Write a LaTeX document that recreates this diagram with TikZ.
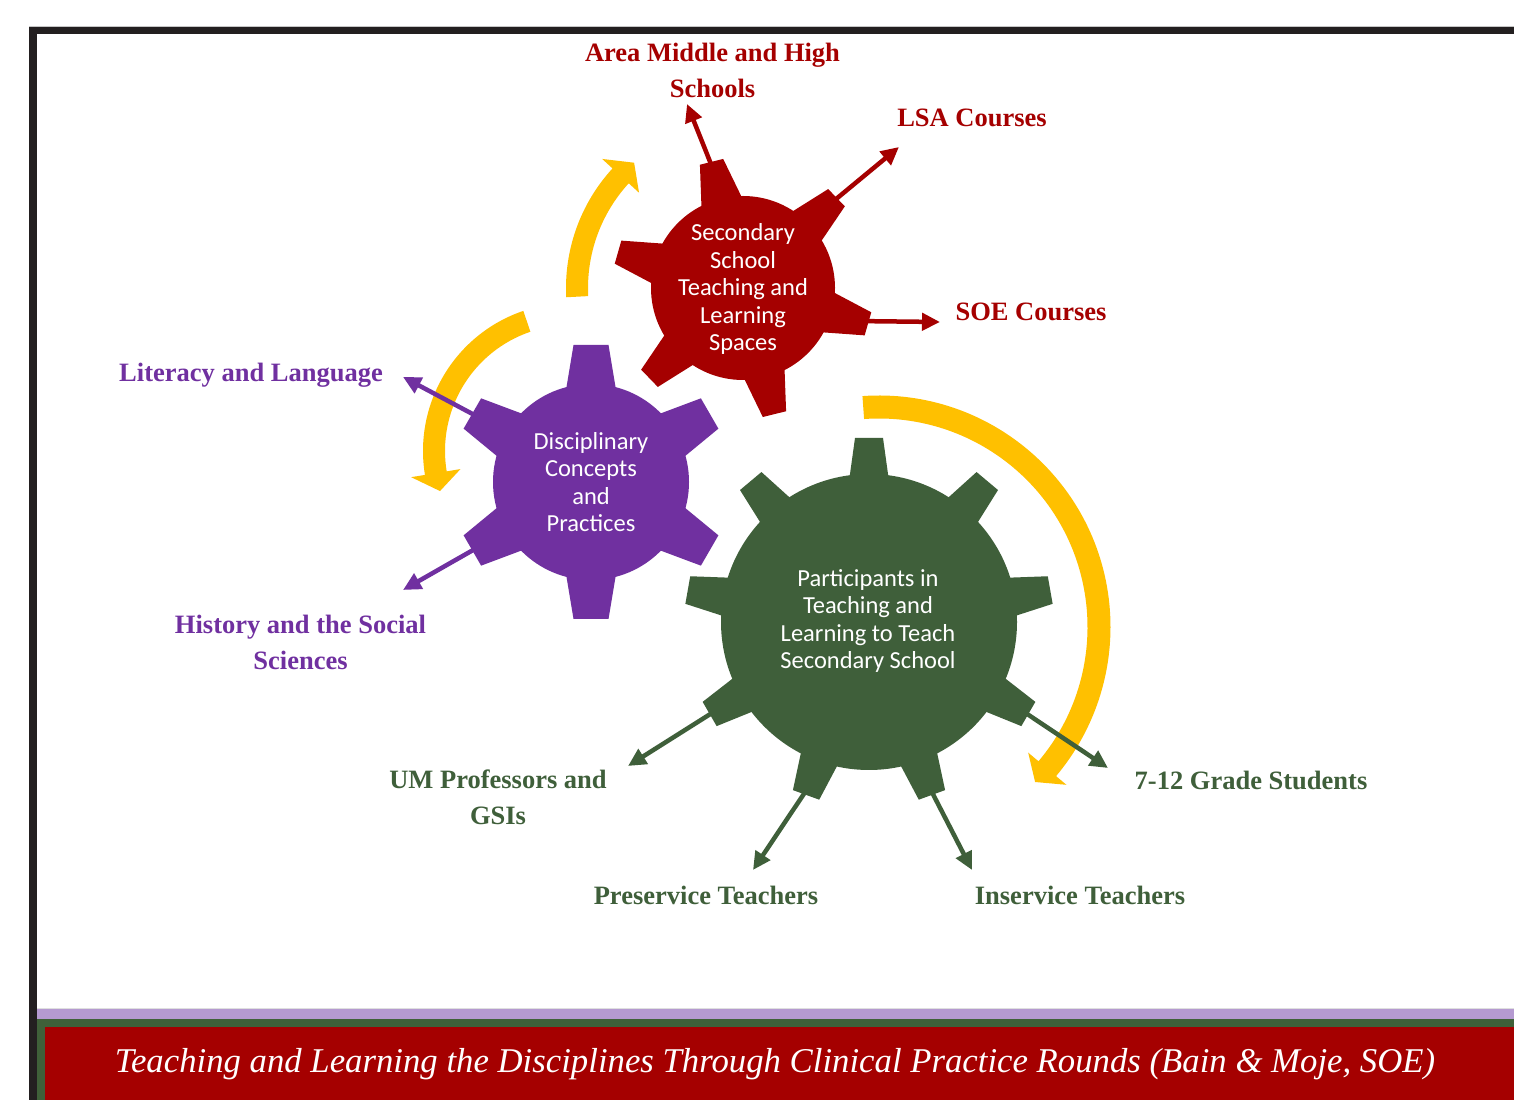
\documentclass[tikz,border=0pt]{standalone}
\usepackage{fontspec}
\usepackage{graphicx}
\setmainfont{Liberation Serif}
\newfontfamily\gearfont{Carlito}
\usetikzlibrary{arrows.meta,calc}
\definecolor{gred}{HTML}{A50000}
\definecolor{gpurple}{HTML}{7030A0}
\definecolor{ggreen}{HTML}{3F5F3A}
\definecolor{gyellow}{HTML}{FFC000}
\definecolor{frameblack}{HTML}{231F20}
\definecolor{lilac}{HTML}{B59AD1}
\definecolor{bandgreen}{HTML}{3F6039}
% #1 x, #2 y (image), #3 teeth, #4 first angle, #5 body r, #6 tip R, #7 tip half width, #8 base half width, #9 colour
\newcommand{\drawgear}[9]{%
  \begin{scope}[shift={(#1,1100-#2)}]
    \fill[#9] (0,0) circle[radius=#5];
    \pgfmathsetmacro\gstep{360/#3}
    \foreach \k in {1,...,#3}{
      \pgfmathsetmacro\ang{#4+(\k-1)*\gstep}
      \fill[#9, rotate=\ang] (#5-10,{-(#8+(#8-#7)*10/(#6-#5))}) -- (#6,-#7) -- (#6,#7) -- (#5-10,{#8+(#8-#7)*10/(#6-#5)}) -- cycle;
    }
  \end{scope}}
\begin{document}
\begin{tikzpicture}[x=1pt,y=1pt,
  lab/.style={font=\bfseries\fontsize{26.5}{36}\selectfont, align=center, inner sep=0pt},
  redlab/.style={lab, text=gred},
  purlab/.style={lab, text=gpurple},
  grnlab/.style={lab, text=ggreen},
  gtxt/.style={font=\gearfont\fontsize{24.5}{27.5}\selectfont, text=white, align=center, inner sep=0pt},
  conn/.style={line width=4.5pt, -{Triangle[length=18pt,width=17pt]}},
  cyc/.style={fill=gyellow}]
\useasboundingbox (0,0) rectangle (1514,1100);
\fill[white] (0,0) rectangle (1514,1100);
% frame
\fill[gray!45] (29,1100-26) rectangle (1514,1100-27);
\fill[frameblack] (29,1100-27) rectangle (1514,1100-34);
\fill[frameblack] (29,0) rectangle (37,1100-27);
% bottom band
\fill[gray!25] (37,1100-1008) rectangle (1514,1100-1009);
\fill[lilac] (37,1100-1009) rectangle (1514,1100-1019);
\fill[bandgreen] (37,0) rectangle (1514,1100-1019);
\fill[gred] (45,0) rectangle (1514,1100-1027);
\node[text=white, font=\itshape, inner sep=0pt] (caption) at (775,1100-1064)
  {\resizebox{1320pt}{!}{Teaching and Learning the Disciplines Through Clinical Practice Rounds (Bain \& Moje, SOE)}};

% centres
\coordinate (rc) at (743,1100-288);
\coordinate (pc) at (591,1100-482);
\coordinate (gc) at (869,1100-622);

% yellow cycle arrows
\begin{scope}[shift={(743,1100-288)}]
  \fill[cyc] (183:177) arc[start angle=183,end angle=137.5,radius=177] -- (137.5:191) -- (131:166) -- (137.5:141) -- (137.5:155) arc[start angle=137.5,end angle=183,radius=155] -- cycle;
\end{scope}
\begin{scope}[shift={(571,1100-451)}]
  \fill[cyc] (108.8:148) arc[start angle=108.8,end angle=189.3,radius=148] -- (189.3:162) -- (197:137) -- (189.3:112) -- (189.3:126) arc[start angle=189.3,end angle=108.8,radius=126] -- cycle;
\end{scope}
\begin{scope}[shift={(879,1100-627)}]
  \fill[cyc] (94.1:231.5) arc[start angle=94.1,end angle=-40.1,radius=231.5] -- (-40.1:245) -- (-44.8:220) -- (-40.1:195) -- (-40.1:208.5) arc[start angle=-40.1,end angle=94.1,radius=208.5] -- cycle;
\end{scope}

% labels
\node[redlab] (lschools) at (712.5,1100-70) {Area Middle and High\\Schools};
\node[redlab] (llsa) at (972,1100-118) {LSA Courses};
\node[redlab] (lsoe) at (1031,1100-312) {SOE Courses};
\node[purlab] (llit) at (251,1100-375) {Literacy and Language};
\node[purlab] (lhist) at (300.5,1100-642) {History and the Social\\Sciences};
\node[grnlab] (lum) at (498,1100-797) {UM Professors and\\GSIs};
\node[grnlab] (lpre) at (706,1100-895) {Preservice Teachers};
\node[grnlab] (lin) at (1080,1100-895) {Inservice Teachers};
\node[grnlab] (lstu) at (1251,1100-780) {7-12 Grade Students};

% connector ends
\coordinate (eschools) at (687,1100-104);
\coordinate (elsa) at (899,1100-147);
\coordinate (esoe) at (940,1100-322);
\coordinate (elit) at (403,1100-377);
\coordinate (ehist) at (403,1100-590);
\coordinate (eum) at (628,1100-766);
\coordinate (epre) at (753,1100-870);
\coordinate (ein) at (972,1100-870);
\coordinate (estu) at (1108,1100-768);

% connector starts (inside teeth)
\coordinate (sschools) at ($(rc)+(104:120)$);
\coordinate (slsa) at ($(rc)+(44:120)$);
\coordinate (ssoe) at ($(rc)+(-16:120)$);
\coordinate (slit) at ($(pc)+(150:127)$);
\coordinate (shist) at ($(pc)+(-150:127)$);
\coordinate (sum) at ($(gc)+(-150:174)$);
\coordinate (spre) at ($(gc)+(-110:174)$);
\coordinate (sin) at ($(gc)+(-70:174)$);
\coordinate (sstu) at ($(gc)+(-30:174)$);

\draw[conn, gred] (sschools) -- (eschools);
\draw[conn, gred] (slsa) -- (elsa);
\draw[conn, gred] (ssoe) -- (esoe);
\draw[conn, gpurple] (slit) -- (elit);
\draw[conn, gpurple] (shist) -- (ehist);
\draw[conn, ggreen] (sum) -- (eum);
\draw[conn, ggreen] (spre) -- (epre);
\draw[conn, ggreen] (sin) -- (ein);
\draw[conn, ggreen] (sstu) -- (estu);

% gears
\drawgear{743}{288}{6}{104}{92}{130}{12}{20}{gred}
\drawgear{591}{482}{6}{90}{98}{137}{17.5}{24}{gpurple}
\drawgear{869}{622}{9}{90}{148}{184}{14}{19}{ggreen}

% gear texts
\node[gtxt] (rtext) at (743,1100-289) {Secondary\\School\\Teaching and\\Learning\\Spaces};
\node[gtxt] (ptext) at (591,1100-482) {Disciplinary\\Concepts\\and\\Practices};
\node[gtxt] (gtext) at (868,1100-621) {Participants in\\Teaching and\\Learning to Teach\\Secondary School};
\end{tikzpicture}
\end{document}
